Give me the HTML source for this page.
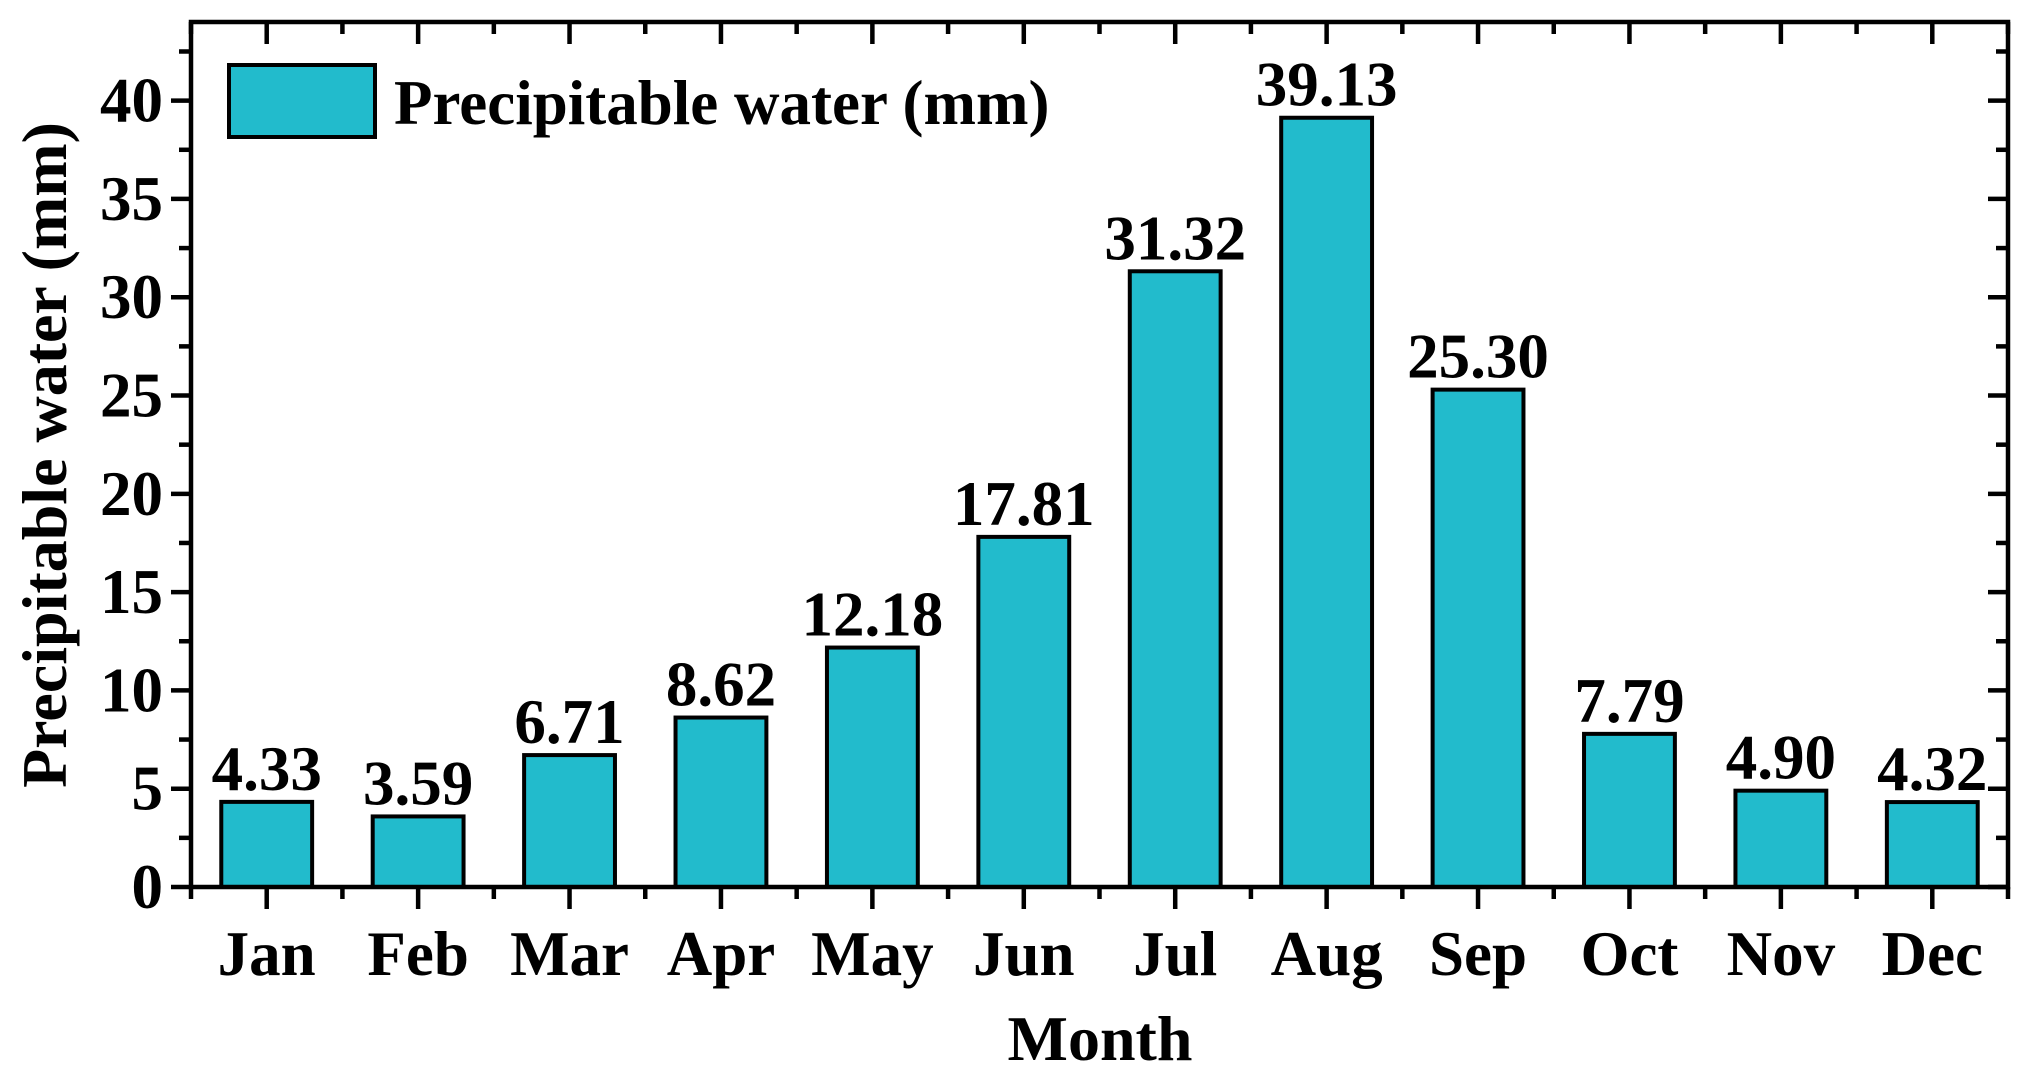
<!DOCTYPE html>
<html><head><meta charset="utf-8"><style>
html,body{margin:0;padding:0;background:#fff;}
svg{display:block;}
svg text{font-family:"Liberation Serif","DejaVu Serif","Times New Roman",serif;font-weight:bold;}
</style></head><body>
<svg id="chart" width="2027" height="1078" viewBox="0 0 2027 1078">
<g id="plot"></g>
</svg>
<script>
const categories=["Jan","Feb","Mar","Apr","May","Jun","Jul","Aug","Sep","Oct","Nov","Dec"];
const values=[4.33,3.59,6.71,8.62,12.18,17.81,31.32,39.13,25.30,7.79,4.90,4.32];
const valueLabels=["4.33","3.59","6.71","8.62","12.18","17.81","31.32","39.13","25.30","7.79","4.90","4.32"];
const yTicks=[0,5,10,15,20,25,30,35,40];
const L=191,R=2008,T=22,B=887,yMax=44;
const step=(R-L)/categories.length;
const xS=i=>L+(i+0.5)*step;
const yS=v=>B-(v/yMax)*(B-T);
const NS="http://www.w3.org/2000/svg";
const g=document.getElementById('plot');
const FF='"Liberation Serif", "DejaVu Serif", serif';
function mk(tag,attrs,parent){const e=document.createElementNS(NS,tag);for(const k in attrs)e.setAttribute(k,attrs[k]);(parent||g).appendChild(e);return e;}
const bw=step*0.6;
categories.forEach((c,i)=>{
  const r=mk('rect',{x:xS(i)-bw/2,y:yS(values[i]),width:bw,height:B-yS(values[i]),fill:'#22bbcc',stroke:'#000','stroke-width':4});
  
  
  const t=mk('text',{x:xS(i),y:yS(values[i])-12,'text-anchor':'middle','font-size':63,'font-family':FF});
  t.textContent=valueLabels[i];
  
  
  const m=mk('text',{x:xS(i),y:975,'text-anchor':'middle','font-size':63,'font-family':FF});
  m.textContent=c;
  
  
  mk('line',{x1:xS(i),x2:xS(i),y1:B,y2:B+22,stroke:'#000','stroke-width':4.5});
  mk('line',{x1:xS(i),x2:xS(i),y1:T,y2:T+22,stroke:'#000','stroke-width':4.5});
});
for(let i=0;i<=categories.length;i++){
  const x=L+i*step;
  mk('line',{x1:x,x2:x,y1:B,y2:B+12,stroke:'#000','stroke-width':4.5});
  mk('line',{x1:x,x2:x,y1:T,y2:T+12,stroke:'#000','stroke-width':4.5});
}
yTicks.forEach(v=>{
  mk('line',{x1:L-20,x2:L,y1:yS(v),y2:yS(v),stroke:'#000','stroke-width':4.5});
  mk('line',{x1:R,x2:R-20,y1:yS(v),y2:yS(v),stroke:'#000','stroke-width':4.5});
  const t=mk('text',{x:L-28,y:yS(v)+21,'text-anchor':'end','font-size':63,'font-family':FF});
  t.textContent=v;
  
  
  const mv=v+2.5;
  if(mv<yMax){
    mk('line',{x1:L-12,x2:L,y1:yS(mv),y2:yS(mv),stroke:'#000','stroke-width':4.5});
    mk('line',{x1:R,x2:R-12,y1:yS(mv),y2:yS(mv),stroke:'#000','stroke-width':4.5});
  }
});
const frame=mk('rect',{x:L,y:T,width:R-L,height:B-T,fill:'none',stroke:'#000','stroke-width':4.5});


</script>
<script>
(function(){
const NS="http://www.w3.org/2000/svg";const s=document.getElementById('chart');
const FF='"Liberation Serif", "DejaVu Serif", serif';
function mk(tag,attrs){const e=document.createElementNS(NS,tag);for(const k in attrs)e.setAttribute(k,attrs[k]);s.appendChild(e);return e;}
const lb=mk('rect',{x:229,y:65,width:146,height:72,fill:'#22bbcc',stroke:'#000','stroke-width':4});


const lt=mk('text',{x:394,y:124,'font-size':63,'font-family':FF});
lt.textContent='Precipitable water (mm)';


const xt=mk('text',{x:1100,y:1060,'text-anchor':'middle','font-size':64,'font-family':FF});
xt.textContent='Month';


const yt=mk('text',{x:0,y:0,'text-anchor':'middle','font-size':64,'font-family':FF,transform:'translate(66,455) rotate(-90)'});
yt.textContent='Precipitable water (mm)';


})();
</script>
</body></html>
